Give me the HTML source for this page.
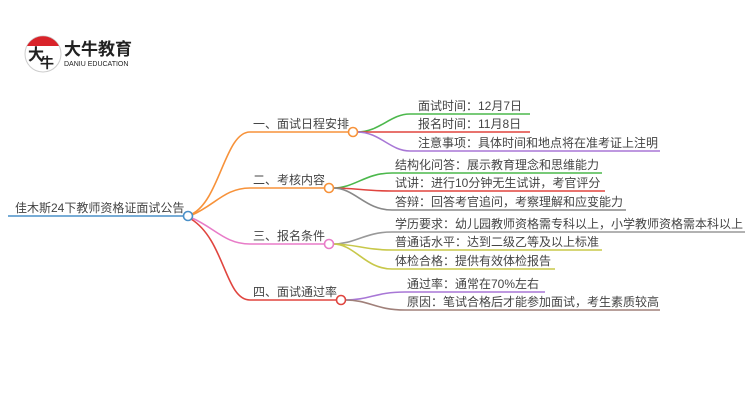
<!DOCTYPE html>
<html><head><meta charset="utf-8"><style>
html,body{margin:0;padding:0;background:#fff;width:750px;height:410px;overflow:hidden}
text{font-family:"Liberation Sans","Noto Sans CJK SC",sans-serif;font-size:12px;fill:#444}
</style></head><body>
<svg width="750" height="410" xmlns="http://www.w3.org/2000/svg">
<circle cx="43" cy="54" r="18" fill="#fff" stroke="#ccc" stroke-width="1"/>
<path d="M27,46 A18,18 0 0 1 59,46 Z" fill="#d9232a"/>
<text x="28" y="60" style="font-size:16px;fill:#222;font-weight:bold">大</text>
<text x="40" y="68" style="font-size:14px;fill:#222;font-weight:bold">牛</text>
<text x="64" y="55" style="font-size:17px;font-weight:bold;fill:#222">大牛教育</text>
<text x="64" y="66" style="font-size:7px;fill:#222">DANIU EDUCATION</text>
<g fill="none" stroke-width="1.6">
<path d="M8,216 H184" stroke="#4a90c8"/>
<path d="M192,214 C220,200 225,132 250,132 H349" stroke="#f7923a"/>
<path d="M192,215 C215,205 225,188 250,188 H325" stroke="#f7923a"/>
<path d="M192,218 C215,228 225,244 250,244 H325" stroke="#e87cc8"/>
<path d="M191,219 C225,240 225,300 250,300 H337" stroke="#e0453f"/>
<path d="M357,132 C380,132 390,114 410,114 H530" stroke="#4cb84c"/>
<path d="M357,132 H530" stroke="#e0453f"/>
<path d="M357,132 C380,132 390,151 410,151 H660" stroke="#a877d6"/>
<path d="M333,188 C355,188 365,173 392,173 H602" stroke="#4cb84c"/>
<path d="M333,188 C355,188 365,191 392,191 H605" stroke="#e0453f"/>
<path d="M333,188 C355,188 365,210 392,210 H626" stroke="#888"/>
<path d="M333,244 C355,244 365,232 392,232 H745" stroke="#999"/>
<path d="M333,244 C355,244 365,250 392,250 H602" stroke="#c8c84a"/>
<path d="M333,244 C355,244 365,269 392,269 H555" stroke="#c8c84a"/>
<path d="M345,300 C370,300 375,292 405,292 H545" stroke="#a877d6"/>
<path d="M345,300 C370,300 375,310 405,310 H660" stroke="#a0807a"/>
</g>
<g fill="#fff" stroke-width="1.6">
<circle cx="188" cy="216" r="4.5" stroke="#4a90c8"/>
<circle cx="353" cy="132" r="4.5" stroke="#f7923a"/>
<circle cx="329" cy="188" r="4.5" stroke="#f7923a"/>
<circle cx="329" cy="244" r="4.5" stroke="#e87cc8"/>
<circle cx="341" cy="300" r="4.5" stroke="#e0453f"/>
</g>
<text x="15" y="212">佳木斯24下教师资格证面试公告</text>
<text x="253" y="128">一、面试日程安排</text>
<text x="253" y="184">二、考核内容</text>
<text x="253" y="240">三、报名条件</text>
<text x="253" y="296">四、面试通过率</text>
<text x="418" y="110">面试时间：12月7日</text>
<text x="418" y="128">报名时间：11月8日</text>
<text x="418" y="147">注意事项：具体时间和地点将在准考证上注明</text>
<text x="395" y="169">结构化问答：展示教育理念和思维能力</text>
<text x="395" y="187">试讲：进行10分钟无生试讲，考官评分</text>
<text x="395" y="206">答辩：回答考官追问，考察理解和应变能力</text>
<text x="395" y="228">学历要求：幼儿园教师资格需专科以上，小学教师资格需本科以上</text>
<text x="395" y="246">普通话水平：达到二级乙等及以上标准</text>
<text x="395" y="265">体检合格：提供有效体检报告</text>
<text x="407" y="288">通过率：通常在70%左右</text>
<text x="407" y="306">原因：笔试合格后才能参加面试，考生素质较高</text>
</svg>
</body></html>
